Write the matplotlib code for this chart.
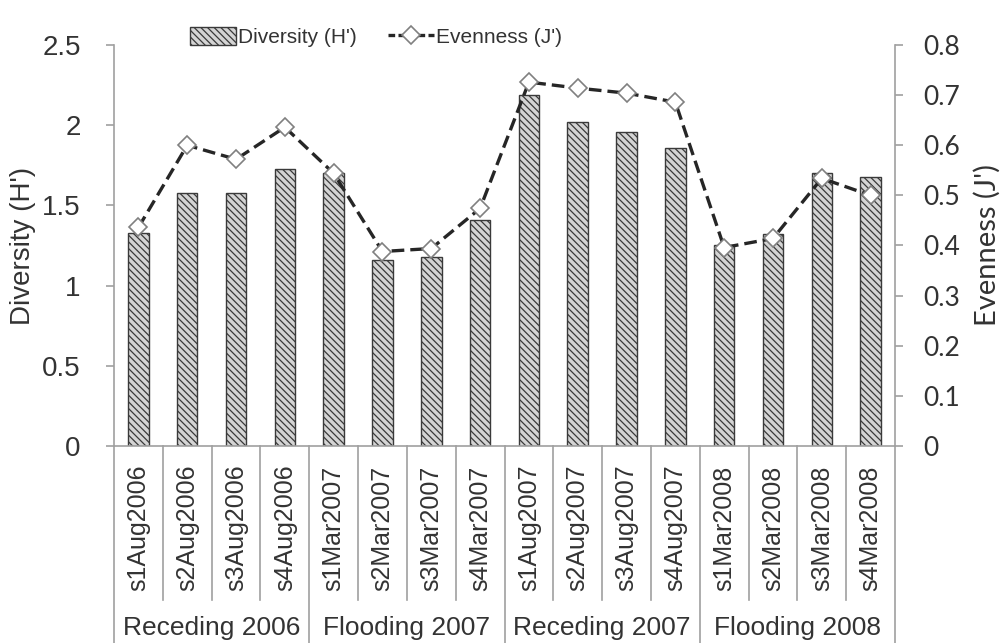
import numpy as np
import matplotlib
matplotlib.use("Agg")
import matplotlib.pyplot as plt
from matplotlib.patches import Patch
from matplotlib.lines import Line2D

plt.rcParams['font.family'] = ['Liberation Sans', 'DejaVu Sans']
plt.rcParams['hatch.linewidth'] = 0.9
plt.rcParams['hatch.color'] = '#3a3a3a'

samples = ["s1Aug2006", "s2Aug2006", "s3Aug2006", "s4Aug2006",
           "s1Mar2007", "s2Mar2007", "s3Mar2007", "s4Mar2007",
           "s1Aug2007", "s2Aug2007", "s3Aug2007", "s4Aug2007",
           "s1Mar2008", "s2Mar2008", "s3Mar2008", "s4Mar2008"]
groups = ["Receding 2006", "Flooding 2007", "Receding 2007", "Flooding 2008"]
diversity = [1.33, 1.58, 1.58, 1.73, 1.70, 1.16, 1.18, 1.41,
             2.19, 2.02, 1.96, 1.86, 1.25, 1.32, 1.70, 1.68]
evenness = [0.436, 0.600, 0.572, 0.636, 0.544, 0.388, 0.394, 0.474,
            0.726, 0.714, 0.704, 0.686, 0.396, 0.414, 0.534, 0.500]

txt = '#333333'
spine = '#a0a0a0'

fig = plt.figure(figsize=(10, 6.43), dpi=100)
ax = fig.add_axes([0.114, 0.3064, 0.781, 0.6236])
x = np.arange(len(samples))
ax.bar(x, diversity, width=0.42, color='#d4d4d4', edgecolor='#3a3a3a',
       linewidth=1.0, hatch='\\\\\\\\\\')
ax.set_xlim(-0.5, len(samples) - 0.5)
ax.set_ylim(0, 2.5)
ax.set_yticks([0, 0.5, 1, 1.5, 2, 2.5])
ax.set_yticklabels(['0', '0.5', '1', '1.5', '2', '2.5'])
ax.tick_params(axis='y', length=6, width=1.2, color=spine, labelsize=20,
               labelcolor=txt, pad=18)
ax.set_xticks([])
for s in ['top', 'right']:
    ax.spines[s].set_visible(False)
for s in ['left', 'bottom']:
    ax.spines[s].set_color(spine)
    ax.spines[s].set_linewidth(1.2)
ax.set_ylabel("Diversity (H')", fontsize=20, color=txt, labelpad=4)

ax2 = ax.twinx()
ax2.plot(x, evenness, color='#262626', linestyle=(0, (3.8, 1.8)), linewidth=2.4,
         marker='D', markersize=9, markerfacecolor='white',
         markeredgecolor='#808080', markeredgewidth=1.2)
ax2.set_ylim(0, 0.8)
ax2.set_yticks(np.arange(0, 0.81, 0.1))
ax2.set_yticklabels(['0', '0.1', '0.2', '0.3', '0.4', '0.5', '0.6', '0.7', '0.8'],
                    family=['Lato', 'DejaVu Sans'])
ax2.tick_params(axis='y', length=6, width=1.2, color=spine, labelsize=19,
                labelcolor=txt, pad=14)
for s in ['top', 'left', 'bottom']:
    ax2.spines[s].set_visible(False)
ax2.spines['right'].set_color(spine)
ax2.spines['right'].set_linewidth(1.2)
ax2.set_ylabel("Evenness (J')", fontsize=21, color=txt, labelpad=10,
               family=['Lato', 'DejaVu Sans'])

# category labels and separators below the axis
tr = ax.get_xaxis_transform()
for i, name in enumerate(samples):
    ax.text(i, -0.205, name, rotation=90, ha='center', va='center',
            fontsize=18, color=txt, transform=tr, clip_on=False)
for i in range(len(samples) + 1):
    bottom = -0.5 if i % 4 == 0 else -0.384
    ax.plot([i - 0.5, i - 0.5], [0, bottom], color=spine, linewidth=1.2,
            transform=tr, clip_on=False)
for g, name in enumerate(groups):
    ax.text(g * 4 + 1.5, -0.455, name, ha='center', va='center',
            fontsize=19, color=txt, transform=tr, clip_on=False)

handles = [Patch(facecolor='#d4d4d4', edgecolor='#3a3a3a', hatch='\\\\\\\\\\'),
           Line2D([], [], color='#262626', linestyle=(0, (2, 1)), linewidth=2.4,
                  marker='D', markersize=9, markerfacecolor='white',
                  markeredgecolor='#808080', markeredgewidth=1.2)]
fig.legend(handles, ["Diversity (H')", "Evenness (J')"], loc='center',
           bbox_to_anchor=(0.376, 0.942), ncol=2, frameon=False, fontsize=15,
           handlelength=2.2, handleheight=0.9, handletextpad=0.1,
           columnspacing=1.5, labelcolor=txt)

fig.savefig('out.png', dpi=100)
